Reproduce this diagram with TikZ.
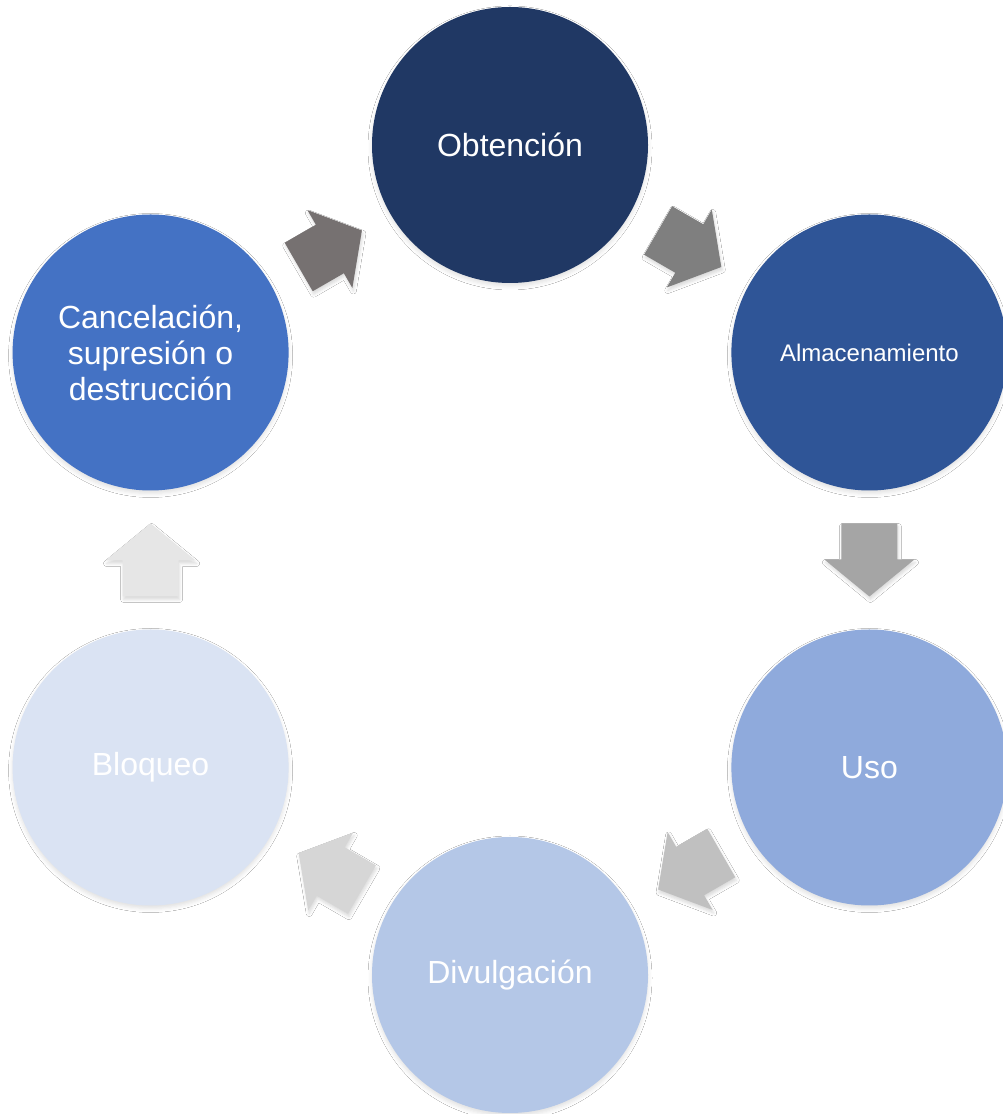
\documentclass[tikz,border=0pt]{standalone}
\usepackage{fontspec}
\setmainfont{Liberation Sans}
\usetikzlibrary{calc,shadows.blur}
\definecolor{cObt}{HTML}{203864}
\definecolor{cAlm}{HTML}{2F5597}
\definecolor{cUso}{HTML}{8FAADC}
\definecolor{cDiv}{HTML}{B4C7E7}
\definecolor{cBlo}{HTML}{DAE3F3}
\definecolor{cCan}{HTML}{4472C4}
\definecolor{aOne}{HTML}{767171}
\definecolor{aTwo}{HTML}{7F7F7F}
\definecolor{aThree}{HTML}{A5A5A5}
\definecolor{aFour}{HTML}{C0C0C0}
\definecolor{aFive}{HTML}{D6D6D6}
\definecolor{aSix}{HTML}{E6E6E6}
\tikzset{
  stage/.style={circle, minimum size=276pt, inner sep=0pt, text=white, align=center,
    font=\fontsize{32}{36}\selectfont,
    blur shadow={shadow xshift=0pt, shadow yshift=-3pt, shadow blur radius=4pt, shadow opacity=12}},
  pics/blockarrow/.style={code={
    \fill[#1, blur shadow={shadow xshift=1pt, shadow yshift=-3pt, shadow blur radius=3pt, shadow opacity=15}]
      (-36.5,-28) -- (-0.5,-28) -- (-0.5,-45) -- (36.5,0) -- (-0.5,45) -- (-0.5,28) -- (-36.5,28) -- cycle;
  }}
}
\begin{document}
\begin{tikzpicture}[x=1pt,y=1pt]
\useasboundingbox (0,0) rectangle (1003,1114);
\fill[white] (0,0) rectangle (1003,1114);
\coordinate (ctr) at (510,554);
\node[stage, fill=cObt] (obt) at ($(ctr)+(90:415)$) {Obtención};
\node[stage, fill=cAlm, font=\fontsize{24}{28}\selectfont] (alm) at ($(ctr)+(30:415)$) {Almacenamiento};
\node[stage, fill=cUso] (uso) at ($(ctr)+(-30:415)$) {Uso};
\node[stage, fill=cDiv] (div) at ($(ctr)+(-90:415)$) {Divulgación};
\node[stage, fill=cBlo] (blo) at ($(ctr)+(-150:415)$) {Bloqueo};
\node[stage, fill=cCan] (can) at ($(ctr)+(150:415)$) {Cancelación,\\supresión o\\destrucción};
\coordinate (m1) at ($(obt)!.5!(alm)$);
\coordinate (m2) at ($(alm)!.5!(uso)$);
\coordinate (m3) at ($(uso)!.5!(div)$);
\coordinate (m4) at ($(div)!.5!(blo)$);
\coordinate (m5) at ($(blo)!.5!(can)$);
\coordinate (m6) at ($(can)!.5!(obt)$);
\pic[rotate=-30] at (m1) {blockarrow=aTwo};
\pic[rotate=-90] at (m2) {blockarrow=aThree};
\pic[rotate=-150] at (m3) {blockarrow=aFour};
\pic[rotate=150] at (m4) {blockarrow=aFive};
\pic[rotate=90] at (m5) {blockarrow=aSix};
\pic[rotate=30] at (m6) {blockarrow=aOne};
\end{tikzpicture}
\end{document}
